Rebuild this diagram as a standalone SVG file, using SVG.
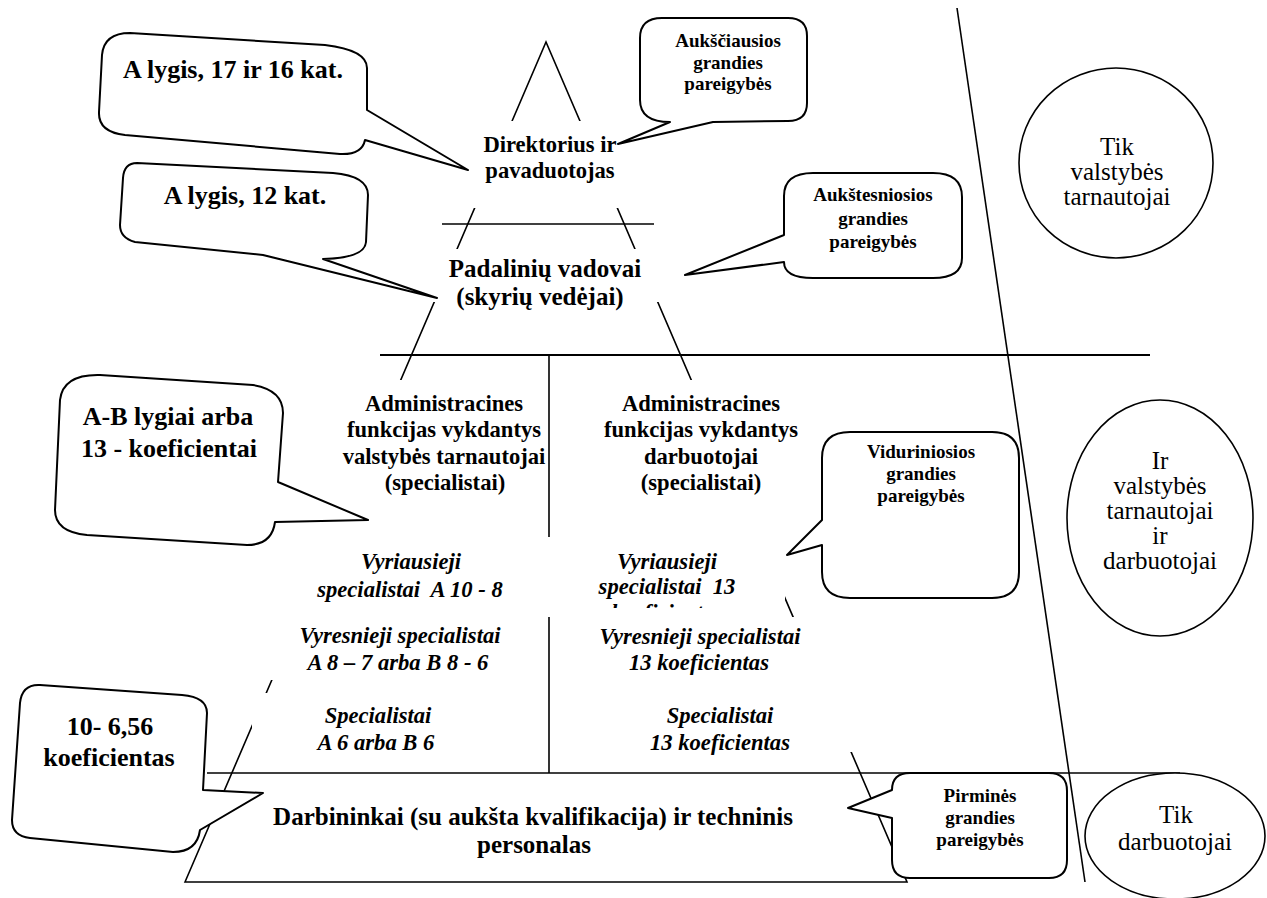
<svg xmlns="http://www.w3.org/2000/svg" width="1267" height="898" viewBox="0 0 1267 898">
  <defs>
    <style>
      .ln { stroke:#000; stroke-width:1.6; fill:none; }
      .cv { fill:#fff; stroke:none; }
      .co { fill:#fff; stroke:#000; stroke-width:2; stroke-linejoin:round; }
      .el { fill:#fff; stroke:#000; stroke-width:1.6; }
      text { font-family:"Liberation Serif","Times New Roman",serif; text-anchor:middle; fill:#000; }
      .b { font-weight:bold; font-size:22.6px; }
      .bl { font-weight:bold; font-size:25px; }
      .bi { font-weight:bold; font-style:italic; font-size:22.6px; }
      .lg { font-weight:bold; font-size:26px; }
      .sm { font-weight:bold; font-size:19px; }
      .rg { font-weight:normal; font-size:25px; }
    </style>
    <clipPath id="clipTop">
      <rect x="546" y="537" width="239" height="71"/>
    </clipPath>
  </defs>

  <!-- pyramid frame and level dividers -->
  <g id="connectors">
    <path class="ln" d="M185,882 L546,42 L907,882 Z"/>
    <path class="ln" d="M442,224 H654"/>
    <path class="ln" d="M380,355 H1150" style="stroke-width:2"/>
    <path class="ln" d="M207,773 H1180"/>
    <path class="ln" d="M549,355 V773"/>
    <path class="ln" d="M957,8 L1085,882"/>
  </g>

  <!-- level labels (white text boxes over the frame) -->
  <g id="level-director">
    <rect class="cv" x="468" y="121" width="154" height="87"/>
    <text class="b" x="550" y="152">Direktorius ir</text>
    <text class="b" x="550" y="178">pavaduotojas</text>
  </g>
  <g id="level-heads">
    <rect class="cv" x="432" y="249" width="228" height="53"/>
    <text class="bl" x="545" y="277">Padalinių vadovai</text>
    <text class="bl" x="540" y="305">(skyrių vedėjai)</text>
  </g>
  <g id="admin-civil">
    <rect class="cv" x="330" y="380" width="217" height="157"/>
    <text class="b" x="444" y="411">Administracines</text>
    <text class="b" x="444" y="437">funkcijas vykdantys</text>
    <text class="b" x="444" y="464">valstybės tarnautojai</text>
    <text class="b" x="445" y="490">(specialistai)</text>
  </g>
  <g id="admin-employees">
    <rect class="cv" x="551" y="380" width="249" height="157"/>
    <text class="b" x="701" y="411">Administracines</text>
    <text class="b" x="701" y="437">funkcijas vykdantys</text>
    <text class="b" x="701" y="464">darbuotojai</text>
    <text class="b" x="701" y="490">(specialistai)</text>
  </g>
  <g id="chief-civil">
    <rect class="cv" x="295" y="537" width="252" height="80"/>
    <text class="bi" x="411" y="569">Vyriausieji</text>
    <text class="bi" x="410" y="597" xml:space="preserve">specialistai  A 10 - 8</text>
  </g>
  <g id="chief-employees">
    <rect class="cv" x="546" y="537" width="239" height="80"/>
    <g clip-path="url(#clipTop)">
      <text class="bi" x="667" y="569">Vyriausieji</text>
      <text class="bi" x="667" y="594" xml:space="preserve">specialistai  13</text>
      <text class="bi" x="667" y="620">koeficientas</text>
    </g>
  </g>
  <g id="senior-civil">
    <rect class="cv" x="268" y="617" width="279" height="63"/>
    <text class="bi" x="400" y="643">Vyresnieji specialistai</text>
    <text class="bi" x="398" y="670">A 8 – 7 arba B 8 - 6</text>
  </g>
  <g id="senior-employees">
    <rect class="cv" x="551" y="617" width="279" height="83"/>
    <text class="bi" x="700" y="644">Vyresnieji specialistai</text>
    <text class="bi" x="699" y="670">13 koeficientas</text>
  </g>
  <g id="spec-civil">
    <rect class="cv" x="252" y="693" width="295" height="75"/>
    <text class="bi" x="378" y="723">Specialistai</text>
    <text class="bi" x="376" y="750">A 6 arba B 6</text>
  </g>
  <g id="spec-employees">
    <rect class="cv" x="551" y="700" width="302" height="52"/>
    <text class="bi" x="720" y="723">Specialistai</text>
    <text class="bi" x="720" y="750">13 koeficientas</text>
  </g>
  <g id="level-workers">
    <text class="bl" x="533" y="825">Darbininkai (su aukšta kvalifikacija) ir techninis</text>
    <text class="bl" x="534" y="853">personalas</text>
  </g>

  <!-- callouts on the left: grade levels -->
  <g id="callout-a17">
    <path class="co" d="M130,33 L325,45 Q367,50 367,68 L367,110 L468,170 L365,140 Q362,155 340,154 L125,135 Q98,132 99,112 L102,55 Q104,33 130,33 Z"/>
    <text class="lg" x="233" y="78">A lygis, 17 ir 16 kat.</text>
  </g>
  <g id="callout-a12">
    <path class="co" d="M137,163 L333,173 Q368,176 368,195 L366,242 Q365,258 323,259 L437,298 L263,255 L135,242 Q120,238 120,225 L123,178 Q124,163 137,163 Z"/>
    <text class="lg" x="245" y="204">A lygis, 12 kat.</text>
  </g>
  <g id="callout-ab">
    <path class="co" d="M100,375 L253,385 Q283,390 283,413 L278,482 L368,520 L275,522 Q272,545 247,545 L87,535 Q55,532 55,510 L60,400 Q63,374 100,375 Z"/>
    <text class="lg" x="168" y="425">A-B lygiai arba</text>
    <text class="lg" x="169" y="457">13 - koeficientai</text>
  </g>
  <g id="callout-coef">
    <path class="co" d="M40,685 L182,695 Q207,697 207,713 L203,790 L263,793 L200,830 Q197,852 173,852 L30,838 Q12,836 12,820 L20,703 Q22,684 40,685 Z"/>
    <text class="lg" x="110" y="735">10- 6,56</text>
    <text class="lg" x="109" y="766">koeficientas</text>
  </g>

  <!-- callouts on the right: position tiers -->
  <g id="callout-top">
    <path class="co" d="M662,18 L788,18 Q807,18 807,36 L807,103 Q807,121 788,121 L713,122 L618,144 L670,122 Q640,122 640,100 L640,38 Q640,18 662,18 Z"/>
    <text class="sm" x="728" y="47">Aukščiausios</text>
    <text class="sm" x="728" y="69">grandies</text>
    <text class="sm" x="728" y="90">pareigybės</text>
  </g>
  <g id="callout-upper">
    <path class="co" d="M813,173 L933,173 Q962,173 962,197 L962,258 Q962,278 933,278 L813,278 Q784,278 784,262 L685,275 L784,235 L784,196 Q784,173 813,173 Z"/>
    <text class="sm" x="873" y="201">Aukštesniosios</text>
    <text class="sm" x="873" y="225">grandies</text>
    <text class="sm" x="873" y="248">pareigybės</text>
  </g>
  <g id="callout-middle">
    <path class="co" d="M850,432 L992,432 Q1019,432 1019,458 L1019,572 Q1019,598 992,598 L850,598 Q822,598 822,572 L822,545 L787,555 L822,520 L822,458 Q822,432 850,432 Z"/>
    <text class="sm" x="921" y="458">Viduriniosios</text>
    <text class="sm" x="921" y="480">grandies</text>
    <text class="sm" x="921" y="502">pareigybės</text>
  </g>
  <g id="callout-primary">
    <path class="co" d="M910,773 L1049,773 Q1067,773 1067,791 L1067,860 Q1067,878 1049,878 L910,878 Q892,878 892,860 L892,818 L848,808 L892,790 Q892,773 910,773 Z"/>
    <text class="sm" x="980" y="802">Pirminės</text>
    <text class="sm" x="980" y="824">grandies</text>
    <text class="sm" x="980" y="846">pareigybės</text>
  </g>

  <!-- staff category ellipses -->
  <g id="only-civil">
    <ellipse class="el" cx="1116" cy="163" rx="97" ry="95"/>
    <text class="rg" x="1117" y="155">Tik</text>
    <text class="rg" x="1117" y="180">valstybės</text>
    <text class="rg" x="1117" y="205">tarnautojai</text>
  </g>
  <g id="both">
    <ellipse class="el" cx="1160" cy="518" rx="93" ry="118"/>
    <text class="rg" x="1160" y="469">Ir</text>
    <text class="rg" x="1160" y="494">valstybės</text>
    <text class="rg" x="1160" y="519">tarnautojai</text>
    <text class="rg" x="1160" y="544">ir</text>
    <text class="rg" x="1160" y="569">darbuotojai</text>
  </g>
  <g id="only-employees">
    <ellipse class="el" cx="1175" cy="836" rx="90" ry="63"/>
    <text class="rg" x="1176" y="823">Tik</text>
    <text class="rg" x="1175" y="850">darbuotojai</text>
  </g>
</svg>
